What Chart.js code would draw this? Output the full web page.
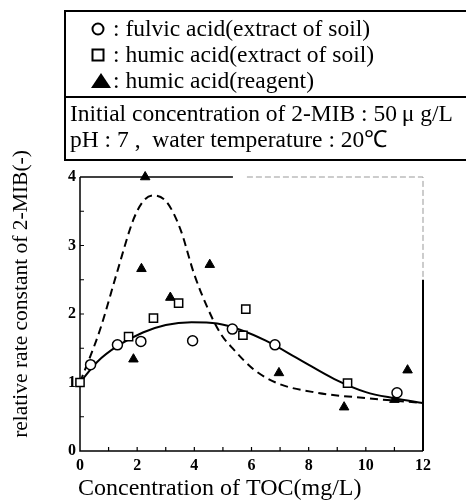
<!DOCTYPE html>
<html>
<head>
<meta charset="utf-8">
<script src="https://cdn.jsdelivr.net/npm/chart.js@4.4.1/dist/chart.umd.min.js"></script>
<style>
  html, body { margin: 0; padding: 0; background: #fff; }
  #wrap { width: 466px; height: 501px; }
</style>
</head>
<body>
<div id="wrap"><canvas id="rateChart" width="466" height="501"></canvas></div>
<script>
// measured points
const fulvicX = [0.37, 1.31, 2.13, 3.94, 5.33, 6.82, 11.09];
const fulvicY = [1.26, 1.55, 1.60, 1.61, 1.78, 1.55, 0.85];

const humicSoilX = [0, 1.70, 2.57, 3.45, 5.70, 5.80, 9.36];
const humicSoilY = [1.00, 1.67, 1.94, 2.16, 1.69, 2.07, 0.99];

const humicReagentX = [1.87, 2.15, 2.28, 3.16, 4.54, 6.96, 9.24, 11.00, 11.46];
const humicReagentY = [1.34, 2.66, 4.00, 2.24, 2.72, 1.14, 0.64, 0.75, 1.18];

// fitted curves
const solidFitX = [0, 0.6, 1.3, 2.2, 3.0, 3.9, 4.8, 5.6, 6.5, 7.7, 8.9, 10.0, 11.0, 12.0];
const solidFitY = [1.00, 1.30, 1.53, 1.73, 1.84, 1.88, 1.86, 1.77, 1.61, 1.33, 1.05, 0.86, 0.77, 0.70];

const dashedFitX = [0, 0.70, 1.29, 1.87, 2.22, 2.57, 3.04, 3.51, 3.98, 4.44, 4.91, 5.38, 6.08, 6.90, 8.30, 10.06, 12.0];
const dashedFitY = [1.00, 1.77, 2.60, 3.38, 3.65, 3.73, 3.63, 3.24, 2.60, 2.11, 1.72, 1.48, 1.19, 0.99, 0.85, 0.77, 0.70];

// axis ticks
const xMinorTicks = [1, 2, 3, 4, 5, 6, 7, 8, 9, 10, 11];
const yMinorTicks = [0.5, 1, 1.5, 2, 2.5, 3, 3.5];

const legendRows = [
  ": fulvic acid(extract of soil)",
  ": humic acid(extract of soil)",
  ": humic acid(reagent)"
];
const conditionRows = [
  "Initial concentration of 2-MIB : 50\u2009\u03bc g/L",
  "pH : 7 ,  water temperature : 20\u2103"
];
const xTitle = "Concentration of TOC(mg/L)";
const yTitle = "relative rate constant of 2-MIB(-)";

const serif = '"Liberation Serif", "Times New Roman", serif';

function toPoints(xs, ys){
  return xs.map((x, i) => ({ x: x, y: ys[i] }));
}

// Frame and inward ticks, drawn under the markers
const framePlugin = {
  id: "frame",
  beforeDatasetsDraw(chart){
    const { ctx, chartArea: a, scales: { x, y } } = chart;
    ctx.save();
    ctx.strokeStyle = "#000";
    ctx.lineWidth = 1.5;

    ctx.beginPath();
    ctx.moveTo(a.left, a.top);
    ctx.lineTo(a.left, a.bottom);
    ctx.lineTo(a.right, a.bottom);
    ctx.stroke();

    // top edge: solid on the left, faint on the right (scan look)
    const topBreak = x.getPixelForValue(5.35);
    ctx.beginPath();
    ctx.moveTo(a.left, a.top);
    ctx.lineTo(topBreak, a.top);
    ctx.stroke();
    ctx.strokeStyle = "#999";
    ctx.lineWidth = 1;
    ctx.setLineDash([6, 3]);
    ctx.beginPath();
    ctx.moveTo(topBreak + 14, a.top);
    ctx.lineTo(a.right, a.top);
    ctx.lineTo(a.right, y.getPixelForValue(2.5));
    ctx.stroke();
    ctx.setLineDash([]);
    ctx.strokeStyle = "#000";
    ctx.lineWidth = 2;
    ctx.beginPath();
    ctx.moveTo(a.right, y.getPixelForValue(2.5));
    ctx.lineTo(a.right, a.bottom);
    ctx.stroke();

    ctx.lineWidth = 1.2;
    ctx.beginPath();
    yMinorTicks.forEach(v => {
      const py = y.getPixelForValue(v);
      ctx.moveTo(a.left, py);
      ctx.lineTo(a.left + 4, py);
    });
    xMinorTicks.forEach(v => {
      const px = x.getPixelForValue(v);
      ctx.moveTo(px, a.bottom);
      ctx.lineTo(px, a.bottom - 4);
    });
    ctx.stroke();
    ctx.restore();
  }
};

// Legend box, conditions and axis titles
const annotationPlugin = {
  id: "annotations",
  afterDraw(chart){
    const ctx = chart.ctx;
    ctx.save();
    ctx.strokeStyle = "#000";
    ctx.fillStyle = "#000";
    ctx.lineWidth = 2;

    ctx.beginPath();
    ctx.moveTo(470, 11);
    ctx.lineTo(65, 11);
    ctx.lineTo(65, 160);
    ctx.lineTo(470, 160);
    ctx.moveTo(65, 97);
    ctx.lineTo(470, 97);
    ctx.stroke();

    // legend symbols
    ctx.lineWidth = 2;
    ctx.beginPath();
    ctx.arc(98, 29, 5.5, 0, Math.PI * 2);
    ctx.stroke();
    ctx.strokeRect(92.5, 49.5, 11, 11);
    ctx.beginPath();
    ctx.moveTo(101, 73);
    ctx.lineTo(111, 88);
    ctx.lineTo(91, 88);
    ctx.closePath();
    ctx.fill();

    ctx.font = "23.5px " + serif;
    ctx.textBaseline = "alphabetic";
    ctx.textAlign = "left";
    const rowBase = [36, 62, 88];
    legendRows.forEach((t, i) => ctx.fillText(t, 113, rowBase[i]));
    ctx.fillText(conditionRows[0], 70, 121);
    ctx.fillText(conditionRows[1], 70, 147);

    // x title
    ctx.font = "24px " + serif;
    ctx.textBaseline = "middle";
    ctx.fillText(xTitle, 78, 489);

    // y title
    ctx.font = "21.5px " + serif;
    ctx.translate(21, 294);
    ctx.rotate(-Math.PI / 2);
    ctx.textAlign = "center";
    ctx.fillText(yTitle, 0, 0);
    ctx.restore();
  }
};

new Chart(document.getElementById("rateChart"), {
  type: "scatter",
  data: {
    datasets: [
      {
        label: "fulvic acid(extract of soil)",
        data: toPoints(fulvicX, fulvicY),
        pointStyle: "circle",
        pointRadius: 5,
        pointBorderWidth: 1.5,
        pointBackgroundColor: "#fff",
        pointBorderColor: "#000",
        clip: false
      },
      {
        label: "humic acid(extract of soil)",
        data: toPoints(humicSoilX, humicSoilY),
        pointStyle: "rect",
        pointRadius: 5.8,
        pointBorderWidth: 1.5,
        pointBackgroundColor: "#fff",
        pointBorderColor: "#000",
        clip: false
      },
      {
        label: "humic acid(reagent)",
        data: toPoints(humicReagentX, humicReagentY),
        pointStyle: "triangle",
        pointRadius: 5.5,
        pointBorderWidth: 1,
        pointBackgroundColor: "#000",
        pointBorderColor: "#000",
        clip: false
      },
      {
        label: "fit solid",
        data: toPoints(solidFitX, solidFitY),
        showLine: true,
        pointRadius: 0,
        borderColor: "#000",
        borderWidth: 2,
        cubicInterpolationMode: "monotone"
      },
      {
        label: "fit dashed",
        data: toPoints(dashedFitX, dashedFitY),
        showLine: true,
        pointRadius: 0,
        borderColor: "#000",
        borderWidth: 2,
        borderDash: [8, 5],
        cubicInterpolationMode: "monotone"
      }
    ]
  },
  options: {
    responsive: false,
    animation: false,
    layout: { padding: { left: 0, right: 43, top: 177, bottom: 0 } },
    plugins: {
      legend: { display: false },
      tooltip: { enabled: false }
    },
    scales: {
      x: {
        type: "linear",
        min: 0,
        max: 12,
        afterFit: scale => { scale.height = 50; },
        grid: { display: false, drawTicks: false },
        border: { display: false },
        ticks: {
          stepSize: 1,
          padding: 5,
          color: "#000",
          font: { family: serif, size: 16, weight: "bold" },
          callback: v => (v % 2 === 0 ? v : "")
        }
      },
      y: {
        min: 0,
        max: 4,
        afterFit: scale => { scale.width = 80; },
        grid: { display: false, drawTicks: false },
        border: { display: false },
        ticks: {
          stepSize: 0.5,
          padding: 4,
          color: "#000",
          font: { family: serif, size: 16, weight: "bold" },
          callback: v => (Number.isInteger(v) ? v : "")
        }
      }
    }
  },
  plugins: [framePlugin, annotationPlugin]
});
</script>
</body>
</html>
